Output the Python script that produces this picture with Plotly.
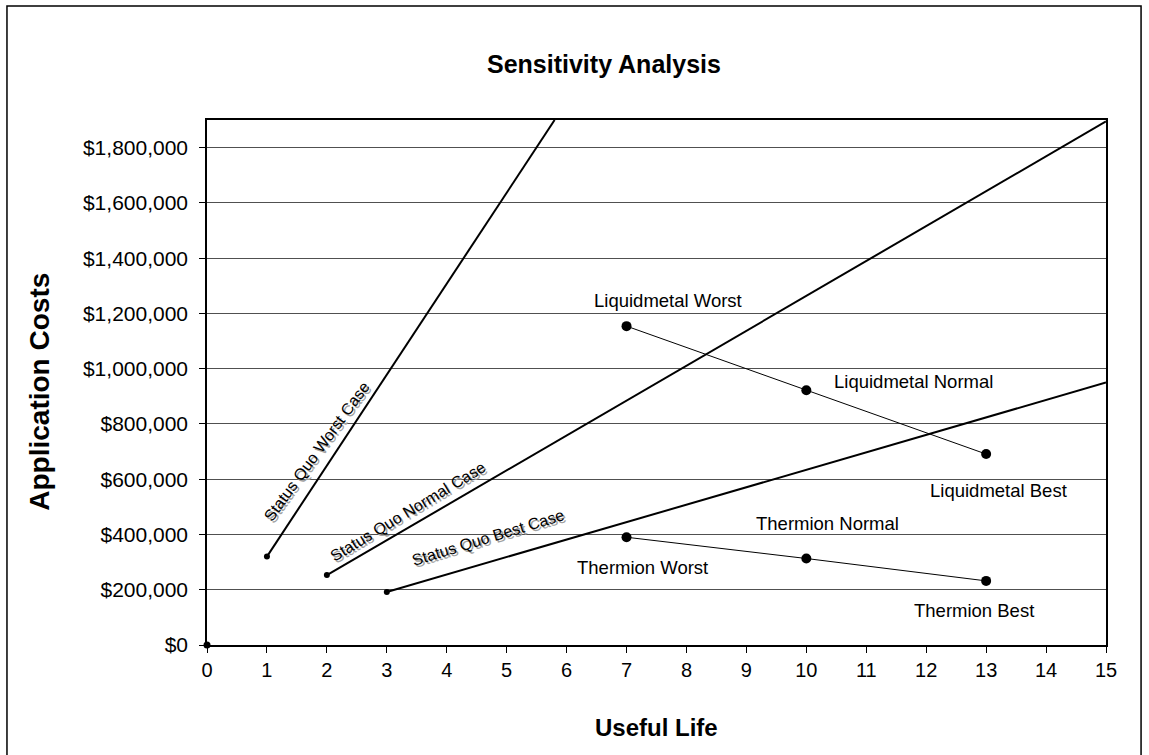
import plotly.graph_objects as go

# ---- data ----
years_tick = list(range(0, 16))
cost_ticks = [0, 200000, 400000, 600000, 800000, 1000000, 1200000, 1400000, 1600000, 1800000]
cost_tick_labels = ["$0", "$200,000", "$400,000", "$600,000", "$800,000", "$1,000,000",
                    "$1,200,000", "$1,400,000", "$1,600,000", "$1,800,000"]

origin_x = [0]
origin_y = [0]

sq_worst_x = [1, 5.8]
sq_worst_y = [320000, 1900000]
sq_normal_x = [2, 15]
sq_normal_y = [253000, 1895000]
sq_best_x = [3, 15]
sq_best_y = [192000, 950000]

lm_x = [7, 10, 13]
lm_y = [1154000, 922000, 691000]
th_x = [7, 10, 13]
th_y = [390000, 313000, 232000]

point_labels = ["Liquidmetal Worst", "Liquidmetal Normal", "Liquidmetal Best",
                "Thermion Worst", "Thermion Normal", "Thermion Best"]
label_x = [7.69, 10.42, 13.2, 7.27, 10.36, 12.8]
label_y = [1248000, 955000, 558000, 279000, 438000, 124000]
label_anchor = ["center", "left", "center", "center", "center", "center"]

sq_labels = ["Status Quo Worst Case", "Status Quo Normal Case", "Status Quo Best Case"]
sq_label_x = [1.83, 3.35, 4.69]
sq_label_y = [700000, 483000, 388000]
sq_label_angle = [-54, -31, -17]

FONT = "Arial, Liberation Sans, sans-serif"

fig = go.Figure()

fig.add_trace(go.Scatter(x=origin_x, y=origin_y, mode="markers",
                         marker=dict(color="black", size=7), cliponaxis=False,
                         showlegend=False))

for xs, ys in [(sq_worst_x, sq_worst_y), (sq_normal_x, sq_normal_y), (sq_best_x, sq_best_y)]:
    fig.add_trace(go.Scatter(x=xs, y=ys, mode="lines",
                             line=dict(color="black", width=2), showlegend=False))
    fig.add_trace(go.Scatter(x=xs[:1], y=ys[:1], mode="markers",
                             marker=dict(color="black", size=6), showlegend=False))

for xs, ys in [(lm_x, lm_y), (th_x, th_y)]:
    fig.add_trace(go.Scatter(x=xs, y=ys, mode="lines+markers",
                             line=dict(color="black", width=1),
                             marker=dict(color="black", size=10), showlegend=False))

annotations = []
for t, x, y, a in zip(point_labels, label_x, label_y, label_anchor):
    annotations.append(dict(x=x, y=y, xref="x", yref="y", text=t, showarrow=False,
                            xanchor=a, yanchor="middle",
                            font=dict(family=FONT, size=18.5, color="black")))

for t, x, y, ang in zip(sq_labels, sq_label_x, sq_label_y, sq_label_angle):
    # shadow
    annotations.append(dict(x=x, y=y, xref="x", yref="y", text=t, showarrow=False,
                            textangle=ang, xshift=2, yshift=-2,
                            xanchor="center", yanchor="middle",
                            font=dict(family=FONT, size=16, color="#a0a0a0")))
    annotations.append(dict(x=x, y=y, xref="x", yref="y", text=t, showarrow=False,
                            textangle=ang, xanchor="center", yanchor="middle",
                            font=dict(family=FONT, size=16, color="black")))

# title and axis titles
annotations.append(dict(x=0.4416, y=1.1067, xref="paper", yref="paper",
                        xanchor="center", yanchor="middle",
                        text="<b>Sensitivity Analysis</b>", showarrow=False,
                        font=dict(family=FONT, size=25, color="black")))
annotations.append(dict(x=-0.186, y=0.482, xref="paper", yref="paper",
                        xanchor="center", yanchor="middle",
                        text="<b>Application Costs</b>", showarrow=False, textangle=-90,
                        font=dict(family=FONT, size=28, color="black")))
annotations.append(dict(x=0.5, y=-0.158, xref="paper", yref="paper",
                        xanchor="center", yanchor="middle",
                        text="<b>Useful Life</b>", showarrow=False,
                        font=dict(family=FONT, size=24, color="black")))

fig.update_layout(
    width=1149, height=755,
    margin=dict(l=207, r=43, t=120, b=110),
    paper_bgcolor="white", plot_bgcolor="white",
    showlegend=False,
    annotations=annotations,
    shapes=[dict(type="rect", xref="paper", yref="paper",
                 x0=-0.2225, x1=1.039, y0=-0.25, y1=1.217,
                 line=dict(color="black", width=1.5), layer="below")],
    font=dict(family=FONT, color="black"),
)

fig.update_xaxes(range=[0, 15], tickvals=years_tick, showgrid=False, zeroline=False,
                 showline=True, linecolor="black", linewidth=1.5, mirror=True,
                 ticks="outside", ticklen=6, tickcolor="black",
                 tickfont=dict(family=FONT, size=20, color="black"))
fig.update_yaxes(range=[0, 1900000], tickvals=cost_ticks, ticktext=cost_tick_labels,
                 showgrid=True, gridcolor="#505050", gridwidth=1, zeroline=False,
                 showline=True, linecolor="black", linewidth=1.5, mirror=True,
                 ticks="outside", ticklen=6, tickcolor="black", ticklabelstandoff=7,
                 tickfont=dict(family=FONT, size=21, color="black"))

fig.write_html("out.html", config={"displayModeBar": False},
               post_script="document.body.style.margin='0px';")
